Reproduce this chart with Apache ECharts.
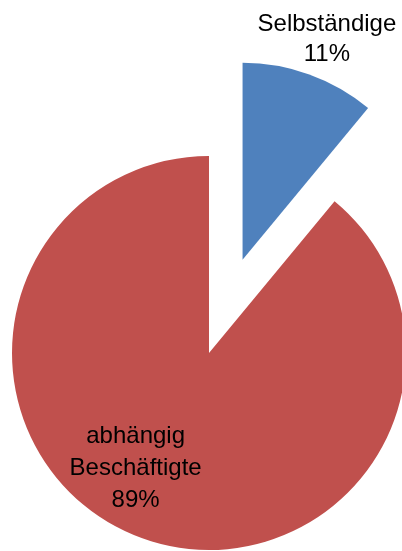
<!DOCTYPE html>
<html>
<head>
<meta charset="utf-8">
<script src="https://cdn.jsdelivr.net/npm/echarts@6/dist/echarts.min.js"></script>
<style>
html,body{margin:0;padding:0;background:#fff;}
#chart{width:402px;height:551px;}
</style>
</head>
<body>
<div id="chart"></div>
<script>
const categories = ['Selbständige', 'abhängig Beschäftigte'];
const values = [11, 89];
const colors = ['#4F81BD', '#C0504D'];
const exploded = [true, false];

const labelShift = [[50, -125], [-39, 20]];
const labelLineHeights = [30, 32];

const chart = echarts.init(document.getElementById('chart'), null, {renderer: 'canvas'});
chart.setOption({
  animation: false,
  backgroundColor: '#ffffff',
  series: [{
    type: 'pie',
    center: [209, 353],
    radius: 197,
    startAngle: 90,
    clockwise: true,
    selectedMode: 'multiple',
    selectedOffset: 99,
    avoidLabelOverlap: false,
    emphasis: {disabled: true},
    labelLine: {show: false},
    label: {
      show: true,
      position: 'inside',
      color: '#000',
      fontFamily: 'Liberation Sans, Arial, sans-serif',
      fontSize: 24,
      lineHeight: 31,
      align: 'center',
      formatter: function (p) {
        return p.name.split(' ').join('\n') + '\n' + Math.round(p.percent) + '%';
      }
    },
    labelLayout: function (params) {
      const s = labelShift[params.dataIndex];
      return {dx: s[0], dy: s[1]};
    },
    data: categories.map((c, i) => ({
      name: c,
      value: values[i],
      selected: exploded[i],
      itemStyle: {color: colors[i]},
      label: {lineHeight: labelLineHeights[i]}
    }))
  }]
});
</script>
</body>
</html>
